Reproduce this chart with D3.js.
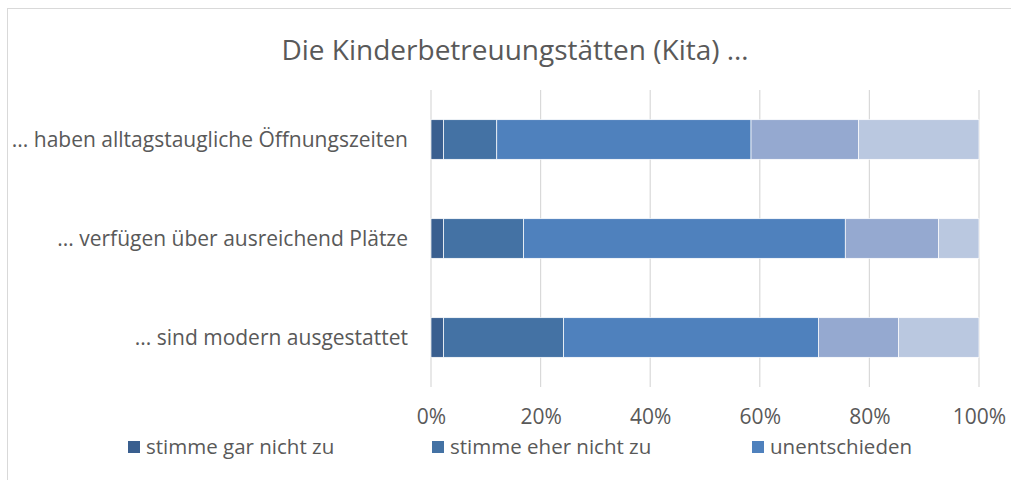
<!DOCTYPE html>
<html>
<head>
<meta charset="utf-8">
<script src="https://cdn.jsdelivr.net/npm/d3@7"></script>
<style>
  body { margin: 0; background: #fff; }
  svg { display: block; font-family: "Open Sans", sans-serif; }
</style>
</head>
<body>
<div class="chart"></div>
<script>
let textGray = "#595959";
let gridGray = "#d9d9d9";

// data
const categories = [
  "... haben alltagstaugliche Öffnungszeiten",
  "... verfügen über ausreichend Plätze",
  "... sind modern ausgestattet"
];
const seriesNames = [
  "stimme gar nicht zu",
  "stimme eher nicht zu",
  "unentschieden",
  "stimme eher zu",
  "stimme voll zu"
];
const garNicht = [2.3, 2.3, 2.3];
const eherNicht = [9.7, 14.6, 21.9];
const unentschieden = [46.4, 58.7, 46.5];
const eherZu = [19.6, 17.0, 14.6];
const vollZu = [22.0, 7.4, 14.7];
const tickValues = [0, 20, 40, 60, 80, 100];
const colors = ["#3a5f8f", "#4472a4", "#4f81bd", "#95a9d0", "#bac8e0"];

const width = 1011;
const height = 480;

const svg = d3.select(".chart")
  .append("svg")
  .attr("width", width)
  .attr("height", height);

// frame
svg.append("rect")
  .attr("x", 7.5)
  .attr("y", 8.5)
  .attr("width", 1020)
  .attr("height", 500)
  .attr("fill", "none")
  .attr("stroke", gridGray);

// title
svg.append("text")
  .attr("x", 515)
  .attr("y", 60)
  .attr("text-anchor", "middle")
  .style("font-size", "28px")
  .style("fill", textGray)
  .text("Die Kinderbetreuungstätten (Kita) …");

//scales
const xScale = d3.scaleLinear()
  .domain([0, 100])
  .range([431, 979]);

const yScale = d3.scaleBand()
  .domain(categories)
  .range([90, 387])
  .paddingInner(0.6)
  .paddingOuter(0.3);

const allSeries = [garNicht, eherNicht, unentschieden, eherZu, vollZu];
const rows = categories.map((c, i) => {
  const row = { category: c };
  seriesNames.forEach((s, j) => { row[s] = allSeries[j][i]; });
  return row;
});
const stacked = d3.stack().keys(seriesNames)(rows);

// gridlines
svg.append("g")
  .selectAll("line")
  .data(tickValues)
  .enter()
  .append("line")
  .attr("x1", d => xScale(d))
  .attr("x2", d => xScale(d))
  .attr("y1", 90)
  .attr("y2", 387)
  .attr("stroke", gridGray)
  .attr("stroke-width", 1.2);

// bars
svg.append("g")
  .selectAll("g")
  .data(stacked)
  .enter()
  .append("g")
  .attr("fill", (d, i) => colors[i])
  .selectAll("rect")
  .data(d => d)
  .enter()
  .append("rect")
  .attr("x", d => xScale(d[0]))
  .attr("y", d => yScale(d.data.category))
  .attr("width", d => xScale(d[1]) - xScale(d[0]))
  .attr("height", yScale.bandwidth())
  .attr("stroke", "#fff")
  .attr("stroke-width", 0.7);

// x axis labels
const xAxis = svg.append("g")
  .attr("transform", "translate(0, 406)")
  .call(d3.axisBottom(xScale).tickValues(tickValues).tickSize(0).tickFormat(d => d + "%"));
xAxis.select(".domain").remove();
xAxis.selectAll(".tick text")
  .style("font-family", "Open Sans, sans-serif")
  .style("font-size", "21px")
  .style("fill", textGray);

// category labels
svg.append("g")
  .selectAll("text")
  .data(categories)
  .enter()
  .append("text")
  .attr("x", 408)
  .attr("y", d => yScale(d) + yScale.bandwidth() / 2)
  .attr("dy", "0.35em")
  .attr("text-anchor", "end")
  .style("font-size", "21px")
  .style("fill", textGray)
  .text(d => d);

// legend (only the first three entries fit, as in the original)
const legendX = [128, 432, 752];
const legend = svg.append("g")
  .selectAll("g")
  .data(seriesNames.slice(0, 3))
  .enter()
  .append("g")
  .attr("transform", (d, i) => `translate(${legendX[i]}, 447)`);

legend.append("rect")
  .attr("x", 0)
  .attr("y", -6)
  .attr("width", 12)
  .attr("height", 12)
  .attr("fill", (d, i) => colors[i]);

legend.append("text")
  .attr("x", 18)
  .attr("y", 0)
  .attr("dy", "0.35em")
  .style("font-size", "20.5px")
  .style("fill", textGray)
  .text(d => d);
</script>
</body>
</html>
